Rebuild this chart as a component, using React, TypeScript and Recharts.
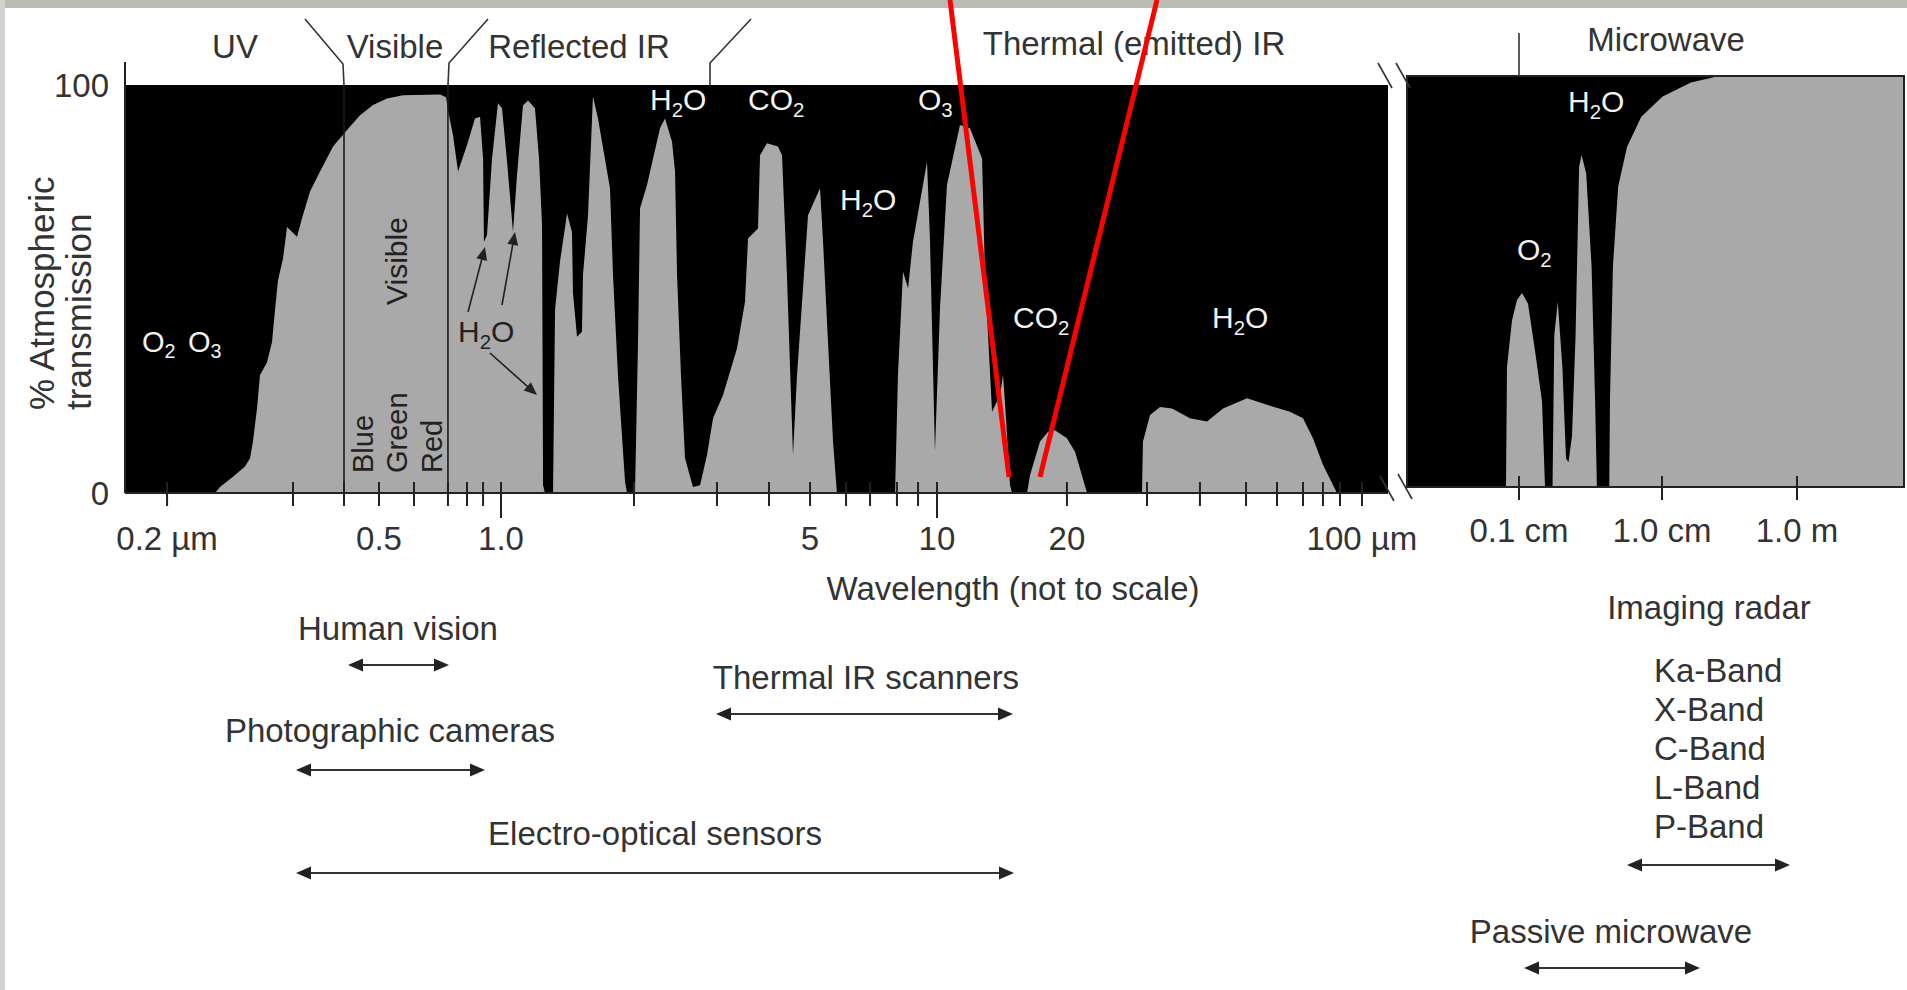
import React from 'react';
import { AreaChart, Area, XAxis, YAxis, CartesianGrid, ReferenceLine } from 'recharts';

// x = relative position along the "not to scale" wavelength axis (0 = left edge, 100 = right edge)
// y = % atmospheric transmission
const leftPos = [
  0, 7.13, 7.52, 8.55, 9.5, 9.9, 10.13, 10.45, 10.69, 11.24,
  11.64, 11.88, 12.11, 12.51, 12.83, 13.62, 14.01, 14.65, 15.44, 16.47,
  17.58, 18.61, 19.64, 20.74, 22.01, 24.94, 25.42, 25.57, 25.97, 26.37,
  27.08, 27.71, 28.11, 28.35, 28.42, 28.66, 29.06, 29.53, 29.85, 30.25,
  30.72, 31.04, 31.51, 31.91, 32.46, 32.78, 33.02, 33.1, 33.25, 33.89,
  34.05, 34.44, 35.0, 35.39, 35.47, 35.79, 36.18, 36.26, 36.66, 37.05,
  37.45, 38.4, 38.64, 39.03, 39.59, 39.75, 40.38, 40.62, 40.78, 41.33,
  42.36, 42.76, 43.31, 43.55, 43.71, 44.02, 44.34, 44.97, 45.53, 46.08,
  46.56, 47.35, 48.46, 49.09, 49.33, 50.12, 50.28, 50.83, 51.7, 52.02,
  52.41, 52.89, 53.21, 54.08, 55.03, 55.27, 55.66, 56.06, 56.37, 60.97,
  61.2, 61.6, 62.0, 62.39, 63.5, 63.74, 64.13, 64.53, 65.08, 66.11,
  66.9, 67.86, 68.09, 68.65, 69.28, 69.52, 69.76, 70.07, 70.23, 71.42,
  71.66, 72.45, 73.08, 73.63, 74.58, 75.22, 75.61, 76.17, 80.52, 80.6,
  81.16, 81.95, 82.9, 84.32, 85.67, 86.94, 88.84, 90.42, 92.24, 93.27,
  94.06, 94.85, 95.96, 100,
];
const leftTrans = [
  0, 0, 1.5, 4, 6.5, 8.5, 12.6, 20.7, 28.9, 32,
  37, 45, 52, 57.5, 65.2, 62.8, 67.3, 73.9, 78.8, 84.9,
  89, 92.6, 95.1, 96.7, 97.5, 97.7, 97, 94, 87.7, 78.8,
  85.3, 91.8, 92.2, 82, 61.6, 63.2, 82, 95.5, 94.3, 81.2,
  64, 78, 95, 96.2, 94.3, 82, 65.7, 1.9, 0, 0,
  45, 56.7, 68.5, 64, 49, 38.3, 39.5, 53.4, 68, 97.2,
  91.8, 74.7, 53.4, 28.9, 2.8, 0, 0, 37, 69.8, 75.5,
  89.4, 91.8, 86.1, 78.8, 53.4, 28.9, 8.5, 1.5, 1.9, 9.3,
  18.3, 24, 35.5, 46.9, 62.4, 64.8, 82.8, 85.7, 84.9, 82.8,
  53.4, 9.3, 28.9, 68.1, 74.7, 61.6, 37.1, 12.6, 0, 0,
  28.9, 54.2, 50.2, 61.6, 81.2, 61.6, 10.1, 45.3, 75.5, 90.2,
  89.4, 82, 53.4, 19.9, 24, 29, 18, 2, 0, 0,
  4.4, 12.6, 15, 15.4, 13.4, 10.1, 6, 0, 0, 12.6,
  19.1, 21.1, 20.7, 18.3, 17.5, 20.7, 23.2, 21.6, 19.9, 18.3,
  13.4, 6.9, 0, 0,
];
const leftTickPos = [
  3.33, 13.3, 17.34, 20.11, 22.88, 25.57, 27.08, 28.35, 29.77, 40.3,
  46.87, 50.99, 54.24, 57.09, 58.99, 61.12, 62.79, 64.29, 74.58, 80.92,
  85.11, 88.76, 91.21, 93.27, 94.85, 96.2, 97.94,
];
const leftTickLabels = [
  '0.2 µm', '', '', '0.5', '', '', '', '', '1.0', '',
  '', '', '5', '', '', '', '', '10', '20', '',
  '', '', '', '', '', '', '100 µm',
];
// Blue / Red edges of the visible band
const visibleEdges = [17.34, 25.57];

const rightPos = [
  0, 19.92, 20.12, 21.13, 22.13, 23.14, 24.35, 25.75, 27.16, 27.77,
  29.28, 29.64, 30.34, 31.27, 31.99, 32.49, 33.2, 33.92, 34.63, 35.13,
  36.06, 37.14, 37.85, 38.21, 40.7, 40.84, 41.43, 42.49, 44.28, 47.14,
  51.43, 57.14, 62.15, 100,
];
const rightTrans = [
  0, 0, 29.2, 40.6, 45.5, 47.2, 44.6, 33.2, 20.9, 0,
  0, 37, 45, 29, 7, 6, 12.4, 37, 78, 80.8,
  76.3, 53.6, 21, 0, 0, 21.2, 53.6, 73.1, 82.8, 90.1,
  95, 98.4, 99.8, 100,
];
const rightTickPos = [22.53, 51.31, 78.47];
const rightTickLabels = ['0.1 cm', '1.0 cm', '1.0 m'];

const radarBands = ['Ka-Band', 'X-Band', 'C-Band', 'L-Band', 'P-Band'];

const W = 1907;
const H = 990;
const FONT = "'Liberation Sans', Arial, Helvetica, sans-serif";
const INK = '#333';
const GREY = '#a9a9a9';

const leftData = leftPos.map((u, i) => ({ u, t: leftTrans[i] }));
const rightData = rightPos.map((u, i) => ({ u, t: rightTrans[i] }));

const makeTick = (positions: number[], labels: string[], longOnes: string[], labelDy: number) => (props: any) => {
  const { x, y, payload } = props;
  const i = positions.indexOf(payload.value);
  const label = labels[i] || '';
  const long = longOnes.includes(label);
  return (
    <g>
      <line x1={x} x2={x} y1={y - 11} y2={y + (long ? 25 : 13)} stroke="#222" strokeWidth={2} />
      {label && (
        <text x={x} y={y + labelDy} textAnchor="middle" fontSize={33} fill={INK} fontFamily={FONT}>
          {label}
        </text>
      )}
    </g>
  );
};

const leftTick = makeTick(leftTickPos, leftTickLabels, ['1.0', '10'], 57);
const rightTick = makeTick(rightTickPos, rightTickLabels, [], 55);

const yTick = (props: any) => {
  const { x, y, payload } = props;
  return (
    <text x={x} y={y + 12} textAnchor="end" fontSize={33} fill={INK} fontFamily={FONT}>
      {payload.value}
    </text>
  );
};

// chemical formula with a subscript, e.g. H2O
const Chem = ({ x, y, base, sub, tail = '', fill, size = 30 }: any) => (
  <text x={x} y={y} fill={fill} fontSize={size} fontFamily={FONT}>
    {base}
    <tspan fontSize={size * 0.68} dy={size * 0.22}>{sub}</tspan>
    {tail && <tspan dy={-size * 0.22}>{tail}</tspan>}
  </text>
);

const head = (x: number, y: number, ang: number, len = 13, hw = 5.5) => {
  const c = Math.cos(ang), s = Math.sin(ang);
  const bx = x - c * len, by = y - s * len;
  return `${x},${y} ${bx - s * hw},${by + c * hw} ${bx + s * hw},${by - c * hw}`;
};

const Arrow = ({ x1, y1, x2, y2 }: any) => {
  const ang = Math.atan2(y2 - y1, x2 - x1);
  return (
    <g>
      <line x1={x1} y1={y1} x2={x2 - Math.cos(ang) * 8} y2={y2 - Math.sin(ang) * 8} stroke="#222" strokeWidth={1.6} />
      <polygon points={head(x2, y2, ang)} fill="#222" />
    </g>
  );
};

const DoubleArrow = ({ x1, x2, y }: any) => (
  <g>
    <line x1={x1 + 8} x2={x2 - 8} y1={y} y2={y} stroke={INK} strokeWidth={2} />
    <polygon points={head(x1, y, Math.PI, 15, 6.5)} fill="#222" />
    <polygon points={head(x2, y, 0, 15, 6.5)} fill="#222" />
  </g>
);

const Label = ({ x, y, children, anchor = 'middle', size = 33 }: any) => (
  <text x={x} y={y} textAnchor={anchor} fontSize={size} fill={INK} fontFamily={FONT}>
    {children}
  </text>
);

export default function App() {
  return (
    <div style={{ position: 'absolute', left: 0, top: 0, width: W, height: H, background: '#fff' }}>
      <div style={{ position: 'absolute', left: 0, top: 0 }}>
        <AreaChart width={W} height={H} data={leftData} margin={{ top: 85, right: W - 1388, bottom: H - 494, left: 124 }}>
          <CartesianGrid fill="#000" fillOpacity={1} horizontal={false} vertical={false} stroke="none" />
          <XAxis
            dataKey="u"
            type="number"
            domain={[0, 100]}
            ticks={leftTickPos}
            interval={0}
            tick={leftTick}
            tickLine={false}
            tickSize={0}
            tickMargin={0}
            height={1}
            axisLine={{ stroke: '#222', strokeWidth: 2 }}
          />
          <YAxis
            type="number"
            domain={[0, 100]}
            ticks={[0, 100]}
            interval={0}
            width={1}
            tickLine={false}
            tickSize={0}
            tickMargin={16}
            axisLine={{ stroke: '#222', strokeWidth: 2 }}
            tick={yTick}
          />
          <Area dataKey="t" type="linear" stroke="none" fill={GREY} fillOpacity={1} isAnimationActive={false} />
          {visibleEdges.map((v) => (
            <ReferenceLine key={v} x={v} stroke="#1a1a1a" strokeWidth={1.6} />
          ))}
        </AreaChart>
      </div>

      <div style={{ position: 'absolute', left: 0, top: 0 }}>
        <AreaChart width={W} height={H} data={rightData} margin={{ top: 76, right: W - 1904, bottom: H - 488, left: 1407 }}>
          <CartesianGrid fill="#000" fillOpacity={1} horizontal={false} vertical={false} stroke="none" />
          <XAxis
            dataKey="u"
            type="number"
            domain={[0, 100]}
            ticks={rightTickPos}
            interval={0}
            tick={rightTick}
            tickLine={false}
            tickSize={0}
            tickMargin={0}
            height={1}
            axisLine={{ stroke: '#222', strokeWidth: 2 }}
          />
          <YAxis type="number" domain={[0, 100]} hide />
          <Area dataKey="t" type="linear" stroke="none" fill={GREY} fillOpacity={1} isAnimationActive={false} />
        </AreaChart>
      </div>

      <svg width={W} height={H} style={{ position: 'absolute', left: 0, top: 0, pointerEvents: 'none' }}>
        {/* scanned page edge */}
        <rect x={0} y={0} width={W} height={8} fill="#b8bcb3" />
        <rect x={0} y={0} width={5} height={H} fill="#d2d2d2" />

        {/* frames */}
        <rect x={1407} y={76} width={497} height={411} fill="none" stroke="#222" strokeWidth={2} />
        <line x1={125} x2={125} y1={62} y2={86} stroke="#222" strokeWidth={2} />

        {/* region headings */}
        <Label x={235} y={58}>UV</Label>
        <Label x={395} y={58}>Visible</Label>
        <Label x={579} y={58}>Reflected IR</Label>
        <Label x={1134} y={55}>Thermal (emitted) IR</Label>
        <Label x={1666} y={51}>Microwave</Label>
        <polyline points="305,19 343,64 344,85" fill="none" stroke={INK} strokeWidth={1.6} />
        <polyline points="488,19 449,63 448,85" fill="none" stroke={INK} strokeWidth={1.6} />
        <polyline points="751,19 710,63 710,85" fill="none" stroke={INK} strokeWidth={1.6} />
        <line x1={1519} x2={1519} y1={33} y2={76} stroke={INK} strokeWidth={1.6} />

        {/* axis break */}
        <line x1={1378} y1={63} x2={1392} y2={88} stroke={INK} strokeWidth={1.6} />
        <line x1={1396} y1={63} x2={1410} y2={88} stroke={INK} strokeWidth={1.6} />
        <line x1={1380} y1={476} x2={1394} y2={501} stroke={INK} strokeWidth={1.6} />
        <line x1={1398} y1={474} x2={1412} y2={499} stroke={INK} strokeWidth={1.6} />

        {/* y axis title */}
        <text transform="translate(54,410) rotate(-90)" fontSize={35} fill={INK} fontFamily={FONT}>% Atmospheric</text>
        <text transform="translate(91,410) rotate(-90)" fontSize={35} fill={INK} fontFamily={FONT}>transmission</text>

        {/* absorbers */}
        <Chem x={142} y={352} base="O" sub="2" fill="#f2f2f2" size={29} />
        <Chem x={188} y={352} base="O" sub="3" fill="#f2f2f2" size={29} />
        <Chem x={650} y={110} base="H" sub="2" tail="O" fill="#f2f2f2" />
        <Chem x={748} y={110} base="CO" sub="2" fill="#f2f2f2" />
        <Chem x={840} y={210} base="H" sub="2" tail="O" fill="#f2f2f2" />
        <Chem x={918} y={110} base="O" sub="3" fill="#f2f2f2" />
        <Chem x={1013} y={328} base="CO" sub="2" fill="#f2f2f2" />
        <Chem x={1212} y={328} base="H" sub="2" tail="O" fill="#f2f2f2" />
        <Chem x={1568} y={112} base="H" sub="2" tail="O" fill="#f2f2f2" />
        <Chem x={1517} y={260} base="O" sub="2" fill="#f2f2f2" />
        <Chem x={458} y={342} base="H" sub="2" tail="O" fill="#222" />
        <Arrow x1={468} y1={312} x2={485} y2={247} />
        <Arrow x1={502} y1={305} x2={515} y2={232} />
        <Arrow x1={490} y1={353} x2={537} y2={395} />

        {/* visible band */}
        <text transform="translate(407,305) rotate(-90)" fontSize={30} fill="#222" fontFamily={FONT}>Visible</text>
        <text transform="translate(373,473) rotate(-90)" fontSize={29} fill="#222" fontFamily={FONT}>Blue</text>
        <text transform="translate(407,473) rotate(-90)" fontSize={29} fill="#222" fontFamily={FONT}>Green</text>
        <text transform="translate(442,473) rotate(-90)" fontSize={29} fill="#222" fontFamily={FONT}>Red</text>

        <Label x={1013} y={600}>Wavelength (not to scale)</Label>

        {/* sensor ranges */}
        <Label x={398} y={640}>Human vision</Label>
        <DoubleArrow x1={348} x2={449} y={665} />
        <Label x={390} y={742}>Photographic cameras</Label>
        <DoubleArrow x1={296} x2={485} y={770} />
        <Label x={655} y={845}>Electro-optical sensors</Label>
        <DoubleArrow x1={296} x2={1014} y={873} />
        <Label x={866} y={689}>Thermal IR scanners</Label>
        <DoubleArrow x1={716} x2={1013} y={714} />

        <Label x={1709} y={619}>Imaging radar</Label>
        {radarBands.map((b, i) => (
          <Label key={b} x={1654} y={682 + i * 39} anchor="start">{b}</Label>
        ))}
        <DoubleArrow x1={1627} x2={1790} y={865} />
        <Label x={1611} y={943}>Passive microwave</Label>
        <DoubleArrow x1={1524} x2={1700} y={968} />

        {/* red marker lines drawn over the scan */}
        <line x1={950} y1={0} x2={1009} y2={477} stroke="#ff0000" strokeWidth={5} />
        <line x1={1157} y1={0} x2={1040} y2={477} stroke="#ff0000" strokeWidth={5} />
      </svg>
    </div>
  );
}
